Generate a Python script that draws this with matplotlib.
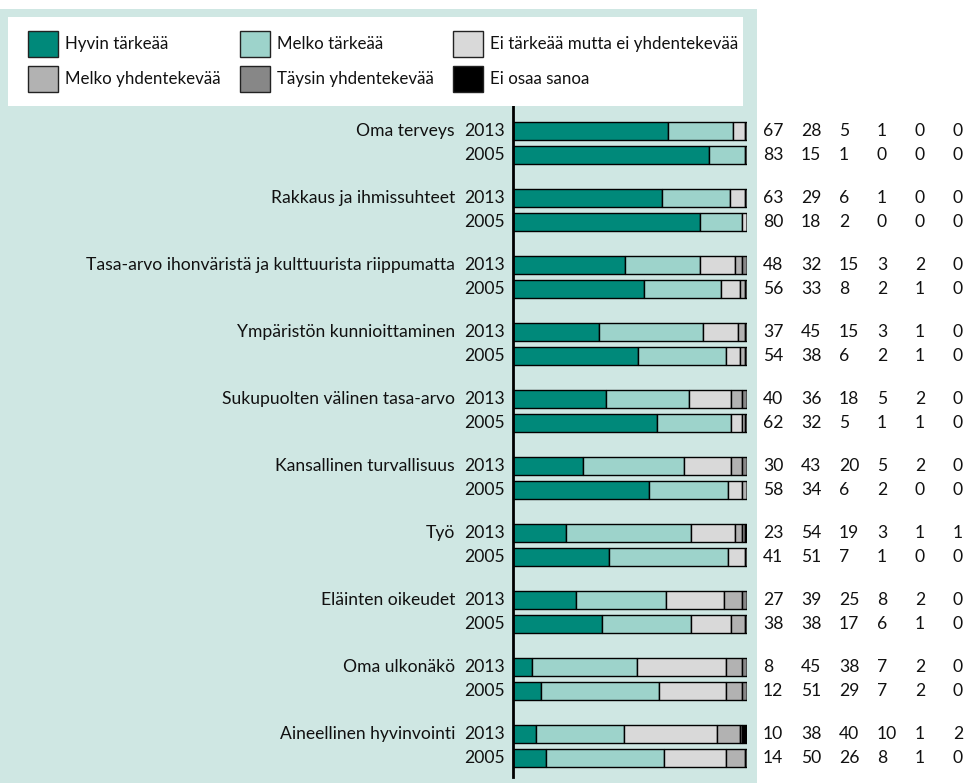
import numpy as np
import matplotlib
matplotlib.use("Agg")
import matplotlib.pyplot as plt
import matplotlib.transforms as mtransforms
from matplotlib.patches import Rectangle

plt.rcParams['font.family'] = ['Lato', 'DejaVu Sans']

# Data
categories = ["Oma terveys", "Rakkaus ja ihmissuhteet",
              "Tasa-arvo ihonväristä ja kulttuurista riippumatta",
              "Ympäristön kunnioittaminen", "Sukupuolten välinen tasa-arvo",
              "Kansallinen turvallisuus", "Työ", "Eläinten oikeudet",
              "Oma ulkonäkö", "Aineellinen hyvinvointi"]
years = ["2013", "2005"]
series = ["Hyvin tärkeää", "Melko tärkeää", "Ei tärkeää mutta ei yhdentekevää",
          "Melko yhdentekevää", "Täysin yhdentekevää", "Ei osaa sanoa"]

values_2013 = [
    [67, 28, 5, 1, 0, 0],
    [63, 29, 6, 1, 0, 0],
    [48, 32, 15, 3, 2, 0],
    [37, 45, 15, 3, 1, 0],
    [40, 36, 18, 5, 2, 0],
    [30, 43, 20, 5, 2, 0],
    [23, 54, 19, 3, 1, 1],
    [27, 39, 25, 8, 2, 0],
    [8, 45, 38, 7, 2, 0],
    [10, 38, 40, 10, 1, 2],
]
values_2005 = [
    [83, 15, 1, 0, 0, 0],
    [80, 18, 2, 0, 0, 0],
    [56, 33, 8, 2, 1, 0],
    [54, 38, 6, 2, 1, 0],
    [62, 32, 5, 1, 1, 0],
    [58, 34, 6, 2, 0, 0],
    [41, 51, 7, 1, 0, 0],
    [38, 38, 17, 6, 1, 0],
    [12, 51, 29, 7, 2, 0],
    [14, 50, 26, 8, 1, 0],
]

colors = ["#00897a", "#9dd3cb", "#d9d9d9", "#b2b2b2", "#878787", "#000000"]
panel_color = "#cfe7e3"
text_color = "#111111"

W, H = 970, 783
fig = plt.figure(figsize=(W / 100, H / 100), dpi=100)

def fx(px):
    return px / W

def fy(py):
    return 1 - py / H

# background panel
fig.add_artist(Rectangle((0, 0), fx(757), fy(9), transform=fig.transFigure,
                         facecolor=panel_color, edgecolor="none", zorder=0))
# legend box
fig.add_artist(Rectangle((fx(8), fy(106)), fx(743 - 8), (106 - 17) / H,
                         transform=fig.transFigure, facecolor="white",
                         edgecolor="none", zorder=1))
leg_x = [28, 240, 453]
leg_y = [44, 79]
for i, name in enumerate(series):
    r, c = divmod(i, 3)
    x0, yc = leg_x[c], leg_y[r]
    fig.add_artist(Rectangle((fx(x0), fy(yc + 13)), 30 / W, 26 / H,
                             transform=fig.transFigure, facecolor=colors[i],
                             edgecolor="#222222", linewidth=1, zorder=2))
    fig.text(fx(x0 + 37), fy(yc), name, ha="left", va="center",
             fontsize=12.2, color=text_color, zorder=3)

# bar axes
ax = fig.add_axes([fx(513), (783 - 777) / H, 234 / W, 682 / H])
ax.set_facecolor("none")
gap = 67 / 24
ax.set_xlim(0, 100)
ax.set_ylim(9 * gap + 1 + 0.79, -1.5)

pos, rows = [], []
for i in range(len(categories)):
    pos += [i * gap, i * gap + 1]
    rows += [values_2013[i], values_2005[i]]
rows = np.array(rows, dtype=float)
pos = np.array(pos)

# bars are scaled to full width (rounded shares may not add up to 100)
widths = rows / rows.sum(axis=1, keepdims=True) * 100
lefts = np.cumsum(widths, axis=1) - widths
for j in range(len(series)):
    ax.barh(pos, widths[:, j], left=lefts[:, j], height=0.75,
            color=colors[j], edgecolor="black", linewidth=1)

for s in ["top", "right", "bottom"]:
    ax.spines[s].set_visible(False)
ax.spines["left"].set_linewidth(2)
ax.set_xticks([])
ax.set_yticks([])

trans = mtransforms.blended_transform_factory(fig.transFigure, ax.transData)
num_x = [763, 801, 839, 877, 915, 953]
for k, p in enumerate(pos):
    ax.text(fx(505), p, years[k % 2], transform=trans, ha="right",
            va="center", fontsize=12.6, color=text_color, clip_on=False)
    for j, v in enumerate(rows[k]):
        ax.text(fx(num_x[j]), p, f"{int(v)}", transform=trans, ha="left",
                va="center", fontsize=12.6, color=text_color, clip_on=False)
for i, cat in enumerate(categories):
    ax.text(fx(455), i * gap, cat, transform=trans, ha="right", va="center",
            fontsize=12.6, color=text_color, clip_on=False)

fig.savefig("out.png", dpi=100)
